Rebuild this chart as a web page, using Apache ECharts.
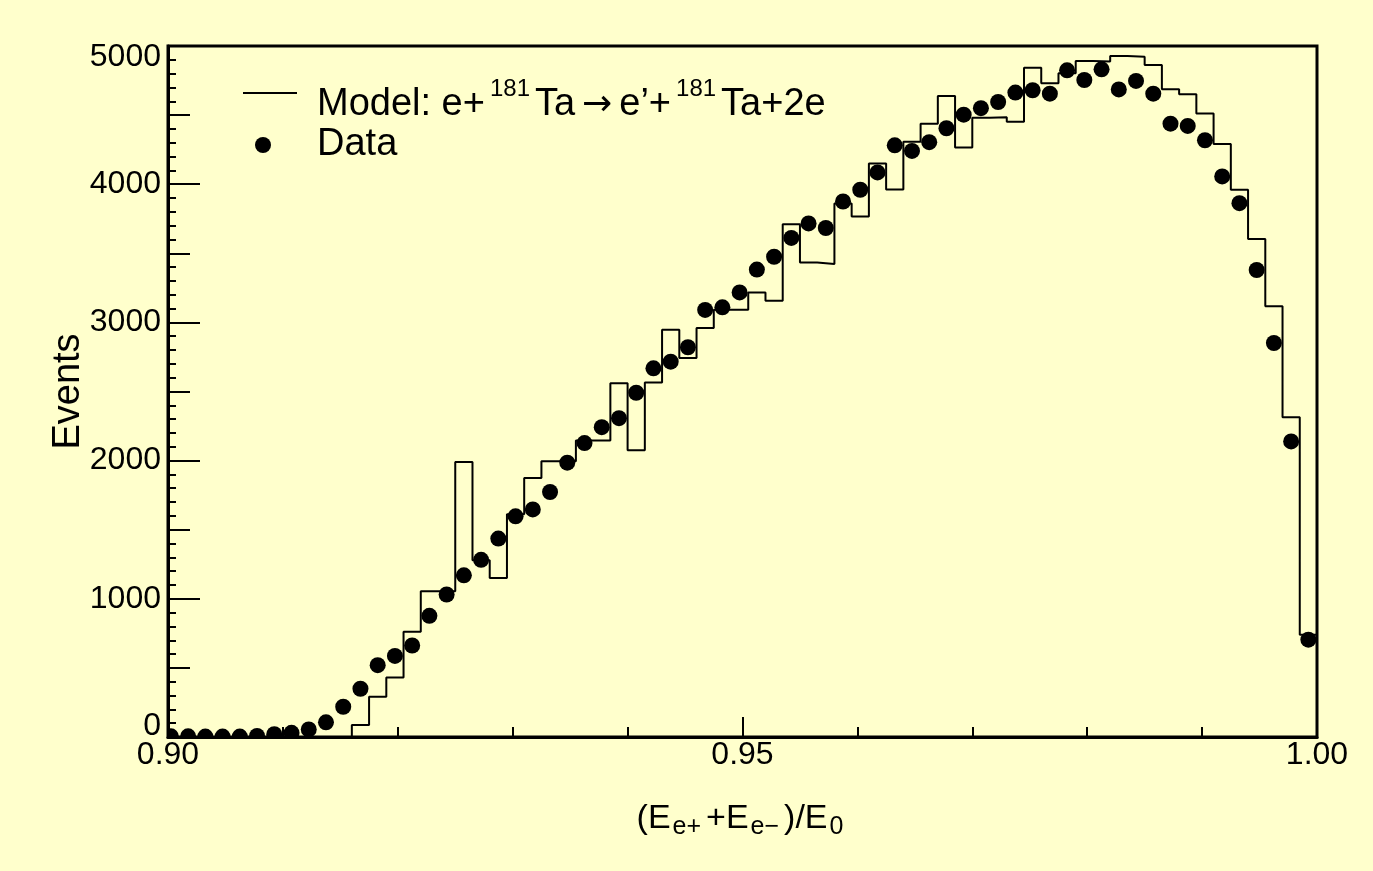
<!DOCTYPE html>
<html><head><meta charset="utf-8">
<script src="https://cdn.jsdelivr.net/npm/echarts@6/dist/echarts.min.js"></script>
<style>html,body{margin:0;padding:0;background:#FFFFCC;} #c{width:1373px;height:871px;}</style>
</head><body><div id="c"></div>
<script>
// Histogram binning (bin edges end at 1.00)
const binLow = 0.8995;
const binWidth = 0.0015;

const dataCounts = [
  5, 5, 3, 3, 3, 8, 20, 30, 55, 106,
  219, 349, 520, 587, 662, 877, 1031, 1170, 1282, 1436,
  1597, 1647, 1773, 1985, 2127, 2242, 2307, 2491, 2668, 2716,
  2820, 3090, 3109, 3217, 3382, 3475, 3611, 3716, 3683, 3875,
  3960, 4085, 4281, 4241, 4304, 4405, 4503, 4550, 4595, 4663,
  4680, 4655, 4824, 4754, 4831, 4686, 4747, 4655, 4438, 4422,
  4318, 4056, 3863, 3379, 2851, 2139, 704
];

// Model histogram (events per bin)
const modelCounts = [
  0, 0, 0, 0, 0, 0, 0, 0, 0, 0,
  0, 87, 291, 431, 761, 1055, 1055, 1990, 1279, 1150,
  1611, 1874, 1996, 1996, 2146, 2146, 2560, 2074, 2565, 2946,
  2743, 2960, 3092, 3092, 3217, 3157, 3711, 3434, 3422, 3861,
  3767, 4150, 3962, 4308, 4438, 4639, 4265, 4480, 4485, 4451,
  4843, 4730, 4802, 4892, 4887, 4928, 4923, 4863, 4687, 4651,
  4511, 4290, 3960, 3603, 3117, 2314, 740
];

const xTickLabels = ['0.90', '0.95', '1.00'];
const yTickLabels = ['0', '1000', '2000', '3000', '4000', '5000'];

const FONT = "'Liberation Sans', Arial, Helvetica, sans-serif";
const INK = '#000';

const dataPoints = dataCounts.map((v, i) => [binLow + (i + 0.5) * binWidth, v]);
const modelSteps = [];
modelCounts.forEach((v, i) => {
  const a = binLow + i * binWidth;
  modelSteps.push([a, v], [a + binWidth, v]);
});

const chart = echarts.init(document.getElementById('c'), null, {renderer: 'canvas'});
chart.setOption({
  backgroundColor: '#FFFFCC',
  animation: false,
  textStyle: {fontFamily: FONT, color: INK},
  grid: {left: 168, right: 56, top: 46, bottom: 134, show: true,
         borderColor: INK, borderWidth: 3, backgroundColor: 'transparent'},
  legend: [
    {
      selectedMode: false, orient: 'vertical', left: 243, top: 62, padding: 0,
      itemWidth: 54, itemHeight: 14,
      data: [{name: 'Model', icon: 'path://M0,0H54V2H0Z'}],
      formatter: () => '{m0|Model: e+}{s|181}{m|Ta}{a|\u2192}{m|e\u2019+}{s|181}{m|Ta+2e}',
      textStyle: {
        color: INK, fontFamily: FONT, fontSize: 38,
        rich: {
          m0: {fontSize: 38, lineHeight: 38, padding: [24, 0, 0, 15], fontFamily: FONT, color: INK},
          m: {fontSize: 38, lineHeight: 38, padding: [24, 0, 0, 0], fontFamily: FONT, color: INK},
          a: {fontSize: 36, lineHeight: 36, padding: [26, 7, 0, 7], fontFamily: "'DejaVu Sans', sans-serif", color: INK},
          s: {fontSize: 24, lineHeight: 26, padding: [0, 5, 8, 5], fontFamily: FONT, color: INK}
        }
      }
    },
    {
      selectedMode: false, orient: 'vertical', left: 255, top: 126, padding: 0,
      itemWidth: 16, itemHeight: 16,
      data: [{name: 'Data', icon: 'circle'}],
      formatter: () => '{d|Data}',
      textStyle: {
        color: INK, fontFamily: FONT, fontSize: 38,
        rich: { d: {fontSize: 38, lineHeight: 38, padding: [0, 0, 0, 41], fontFamily: FONT, color: INK} }
      }
    }
  ],
  xAxis: {
    type: 'value', min: 0.9, max: 1.0, interval: 0.05,
    axisLine: {show: true, onZero: false, lineStyle: {color: INK, width: 3}},
    axisTick: {show: true, inside: true, length: 20, lineStyle: {color: INK, width: 2}},
    minorTick: {show: true, splitNumber: 5, length: 10, lineStyle: {color: INK, width: 2}},
    splitLine: {show: false},
    axisLabel: {
      margin: 2, fontSize: 32, color: INK, fontFamily: FONT,
      formatter: v => xTickLabels[Math.round((v - 0.9) / 0.05)]
    },
    name: '{n|(E}{s|e+}{n|+E}{s|e\u2212}{n|)/E}{s|0}',
    nameLocation: 'middle', nameGap: 61, nameMoveOverlap: false,
    nameTextStyle: {
      fontSize: 34, fontFamily: FONT, color: INK,
      rich: {
        n: {fontSize: 34, lineHeight: 42, fontFamily: FONT, color: INK},
        s: {fontSize: 25, lineHeight: 25, padding: [17, 5, 0, 2], fontFamily: FONT, color: INK}
      }
    }
  },
  yAxis: [
    {
      type: 'value', min: 0, max: 5000, interval: 1000,
      axisLine: {show: true, lineStyle: {color: INK, width: 3}},
      axisTick: {show: true, inside: true, length: 32, lineStyle: {color: INK, width: 2}},
      minorTick: {show: true, splitNumber: 10, length: 8, lineStyle: {color: INK, width: 2}},
      splitLine: {show: false},
      axisLabel: {
        margin: 7, fontSize: 32, color: INK, fontFamily: FONT,
        formatter: v => {
          const t = yTickLabels[Math.round(v / 1000)];
          if (v >= 5000) return '{top|' + t + '}';
          if (v <= 0) return '{bot|' + t + '}';
          return '{n|' + t + '}';
        },
        rich: {
          n: {fontSize: 32, fontFamily: FONT, color: INK},
          top: {fontSize: 32, fontFamily: FONT, color: INK, padding: [23, 0, 0, 0]},
          bot: {fontSize: 32, fontFamily: FONT, color: INK, padding: [0, 0, 22, 0]}
        }
      },
      name: 'Events', nameLocation: 'middle', nameGap: 80, nameMoveOverlap: false,
      nameTextStyle: {fontSize: 38, fontFamily: FONT, color: INK}
    },
    {
      type: 'value', min: 0, max: 5000, interval: 500, position: 'left',
      axisLine: {show: false},
      axisTick: {show: true, inside: true, length: 22, lineStyle: {color: INK, width: 2}},
      axisLabel: {show: false},
      splitLine: {show: false}
    }
  ],
  series: [
    {
      name: 'Model', type: 'line', data: modelSteps, symbol: 'none', showSymbol: false,
      clip: true, silent: true,
      lineStyle: {color: INK, width: 2},
      itemStyle: {color: INK}
    },
    {
      name: 'Data', type: 'custom', data: dataPoints, clip: true, silent: true,
      itemStyle: {color: INK},
      encode: {x: 0, y: 1},
      renderItem: (params, api) => {
        const p = api.coord([api.value(0), api.value(1)]);
        return {type: 'circle', shape: {cx: p[0], cy: p[1], r: 8}, style: {fill: INK}};
      }
    }
  ]
});
</script>
</body></html>
